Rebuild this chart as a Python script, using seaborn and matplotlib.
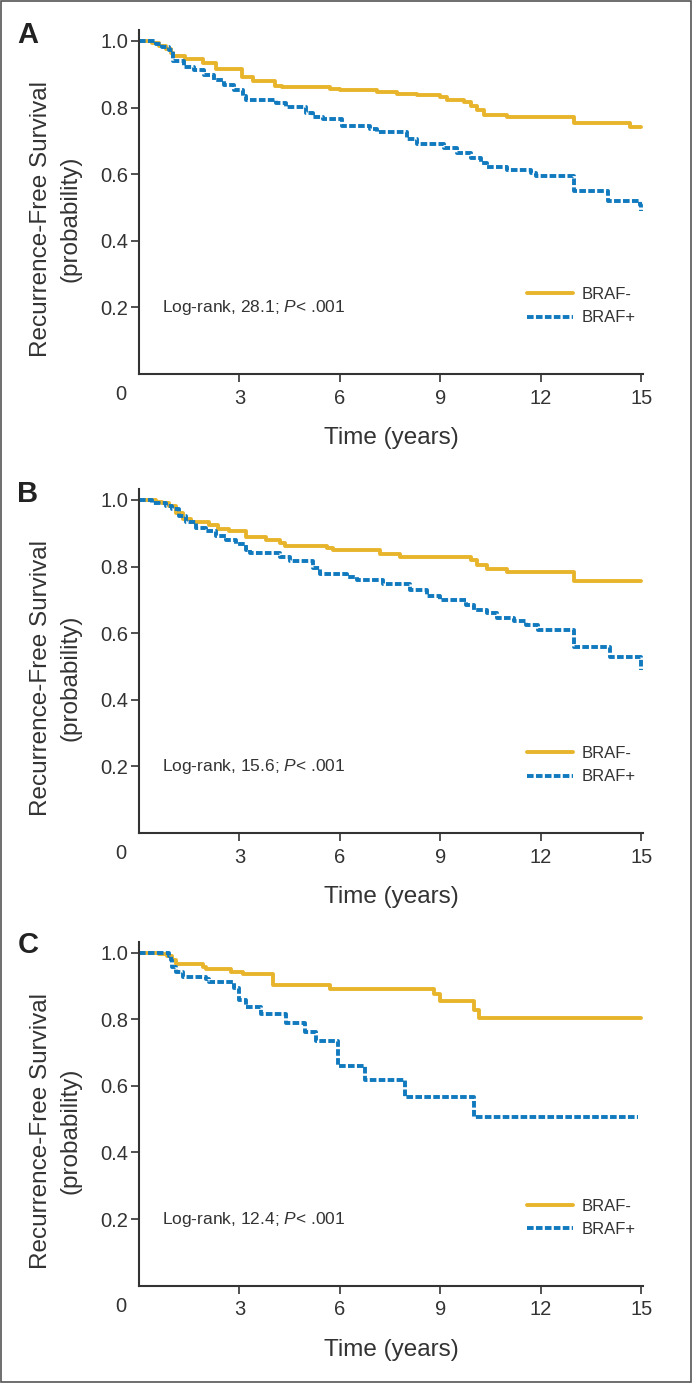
import numpy as np
import pandas as pd
import matplotlib
matplotlib.use('Agg')
import matplotlib.pyplot as plt
import matplotlib.patches as mpatches
import seaborn as sns

# Kaplan-Meier step points: (time in years, survival after the step)
a_neg_t = [0, 0.4, 0.6, 0.8, 0.95, 1.03, 1.37, 1.92, 2.3, 3.07, 3.4, 4.06, 4.26, 5.7, 6.0, 7.1, 7.7, 8.3, 9.0, 9.2, 9.7, 9.9, 10.1, 10.3, 11.0, 12.98, 14.67, 15.0]
a_neg_s = [1.0, 0.995, 0.985, 0.975, 0.965, 0.955, 0.945, 0.933, 0.915, 0.893, 0.881, 0.865, 0.861, 0.855, 0.852, 0.846, 0.842, 0.837, 0.831, 0.823, 0.817, 0.805, 0.793, 0.779, 0.772, 0.755, 0.743, 0.743]
a_pos_t = [0, 0.5, 0.7, 0.9, 1.02, 1.35, 1.65, 1.95, 2.25, 2.55, 2.85, 3.1, 3.2, 4.1, 4.4, 5.0, 5.2, 5.5, 6.05, 6.9, 7.1, 8.0, 8.3, 9.1, 9.5, 9.9, 10.2, 10.4, 11.0, 11.7, 11.85, 13.0, 14.0, 14.95, 15.0]
a_pos_s = [1.0, 0.99, 0.983, 0.973, 0.94, 0.923, 0.913, 0.898, 0.883, 0.868, 0.853, 0.835, 0.823, 0.815, 0.803, 0.785, 0.773, 0.765, 0.745, 0.735, 0.728, 0.705, 0.691, 0.678, 0.665, 0.648, 0.635, 0.623, 0.613, 0.603, 0.596, 0.551, 0.521, 0.508, 0.488]

b_neg_t = [0, 0.5, 0.7, 0.9, 1.1, 1.3, 1.55, 2.1, 2.35, 2.7, 3.2, 3.8, 4.2, 4.35, 5.6, 5.8, 7.2, 7.8, 9.9, 10.1, 10.4, 11.0, 13.0, 15.0]
b_neg_s = [1.0, 0.995, 0.99, 0.982, 0.962, 0.942, 0.934, 0.924, 0.912, 0.907, 0.89, 0.88, 0.872, 0.863, 0.857, 0.849, 0.839, 0.829, 0.821, 0.806, 0.794, 0.783, 0.758, 0.758]
b_pos_t = [0, 0.4, 0.8, 1.0, 1.2, 1.4, 1.7, 2.0, 2.3, 2.6, 2.9, 3.2, 3.3, 4.2, 4.5, 5.2, 5.4, 6.2, 6.5, 7.3, 8.1, 8.6, 9.0, 9.75, 10.0, 10.4, 10.7, 11.2, 11.55, 11.9, 13.0, 14.05, 14.98, 15.0]
b_pos_s = [1.0, 0.99, 0.982, 0.972, 0.952, 0.934, 0.917, 0.907, 0.892, 0.88, 0.867, 0.851, 0.842, 0.829, 0.816, 0.796, 0.779, 0.769, 0.759, 0.749, 0.731, 0.713, 0.701, 0.686, 0.671, 0.661, 0.646, 0.636, 0.624, 0.611, 0.56, 0.528, 0.528, 0.49]

c_neg_t = [0, 0.6, 0.85, 1.0, 1.1, 1.9, 2.0, 2.75, 3.1, 4.0, 5.7, 8.8, 9.0, 10.0, 10.15, 15.0]
c_neg_s = [1.0, 0.997, 0.99, 0.978, 0.965, 0.958, 0.95, 0.943, 0.936, 0.903, 0.89, 0.876, 0.855, 0.828, 0.803, 0.803]
c_pos_t = [0, 0.9, 0.95, 1.0, 1.1, 1.3, 2.0, 2.1, 2.85, 3.0, 3.2, 3.65, 4.4, 4.95, 5.3, 5.95, 6.75, 7.95, 10.0, 14.9]
c_pos_s = [1.0, 0.99, 0.978, 0.958, 0.943, 0.928, 0.92, 0.913, 0.893, 0.858, 0.836, 0.816, 0.79, 0.763, 0.736, 0.66, 0.618, 0.568, 0.508, 0.508]

panel_letters = ['A', 'B', 'C']
logrank = ['28.1', '15.6', '12.4']
groups = ['BRAF-', 'BRAF+']
x_ticks = [3, 6, 9, 12, 15]
y_ticks = [0.2, 0.4, 0.6, 0.8, 1.0]

curves = {
    'A': [(a_neg_t, a_neg_s), (a_pos_t, a_pos_s)],
    'B': [(b_neg_t, b_neg_s), (b_pos_t, b_pos_s)],
    'C': [(c_neg_t, c_neg_s), (c_pos_t, c_pos_s)],
}

gold = '#E7B42C'
blue = '#1179BE'
ink = '#333333'

sns.set_style('ticks')
plt.rcParams['font.family'] = ['Liberation Sans', 'DejaVu Sans']
plt.rcParams['mathtext.fontset'] = 'custom'
plt.rcParams['mathtext.rm'] = 'Liberation Sans'
plt.rcParams['mathtext.it'] = 'Liberation Sans:italic'

W, H = 692, 1383
fig = plt.figure(figsize=(W / 100, H / 100), dpi=100)

left = 139 / W
width = (643 - 139) / W
height = 344 / H
bottoms = [1 - 374 / H, 1 - 833 / H, 1 - 1285.7 / H]
letter_y = [35, 494, 945]

for i, p in enumerate(panel_letters):
    ax = fig.add_axes([left, bottoms[i], width, height])
    rows = []
    for g, (t, s) in zip(groups, curves[p]):
        rows.append(pd.DataFrame({'Time': t, 'Survival': s, 'Group': g}))
    df = pd.concat(rows, ignore_index=True)

    sns.lineplot(data=df, x='Time', y='Survival', hue='Group', style='Group',
                 hue_order=groups, style_order=groups,
                 palette={'BRAF-': gold, 'BRAF+': blue},
                 dashes={'BRAF-': '', 'BRAF+': (1.7, 0.6)},
                 estimator=None, sort=False, drawstyle='steps-post',
                 linewidth=2.8, ax=ax)

    ax.set_xlim(0, 15.05)
    ax.set_ylim(0, 1.033)
    ax.set_xticks(x_ticks)
    ax.set_yticks(y_ticks)
    ax.set_yticklabels([f'{v:.1f}' for v in y_ticks])
    sns.despine(ax=ax)
    for sp in ['left', 'bottom']:
        ax.spines[sp].set_linewidth(1.5)
        ax.spines[sp].set_color(ink)
    ax.tick_params(axis='both', direction='out', length=5.5, width=1.2, color=ink,
                   labelcolor=ink, labelsize=14.5)
    ax.tick_params(axis='y', pad=2)
    ax.tick_params(axis='x', pad=5)

    ax.annotate('0', xy=(0, 0), xycoords='data', xytext=(-13, -15), textcoords='offset points',
                ha='center', va='center', fontsize=14.5, color=ink, annotation_clip=False)

    ax.set_xlabel('Time (years)', fontsize=17.5, color=ink, labelpad=14)
    ax.set_ylabel('Recurrence-Free Survival\n(probability)', fontsize=17.5, color=ink,
                  linespacing=1.45, va='center', ha='center')
    ax.yaxis.set_label_coords(-0.165, 0.45)

    ax.text(0.69, 0.2, f'Log-rank, {logrank[i]}; $P$< .001', fontsize=12.5, color=ink,
            va='center', ha='left')

    sns.move_legend(ax, 'upper left', bbox_to_anchor=(0.77, 0.252), title=None,
                    frameon=False, borderaxespad=0, borderpad=0, handlelength=2.75,
                    handletextpad=0.55, labelspacing=0.49, fontsize=12)
    for t in ax.get_legend().get_texts():
        t.set_color(ink)

    fig.text(28 / W, 1 - letter_y[i] / H, p, fontsize=21, fontweight='bold',
             ha='center', va='center', color='#222222')

fig.patches.append(mpatches.Rectangle((0.0015, 0.0008), 0.997, 0.9984, transform=fig.transFigure,
                                      fill=False, lw=1.2, ec='#555555'))

fig.savefig('out.png', dpi=100)
